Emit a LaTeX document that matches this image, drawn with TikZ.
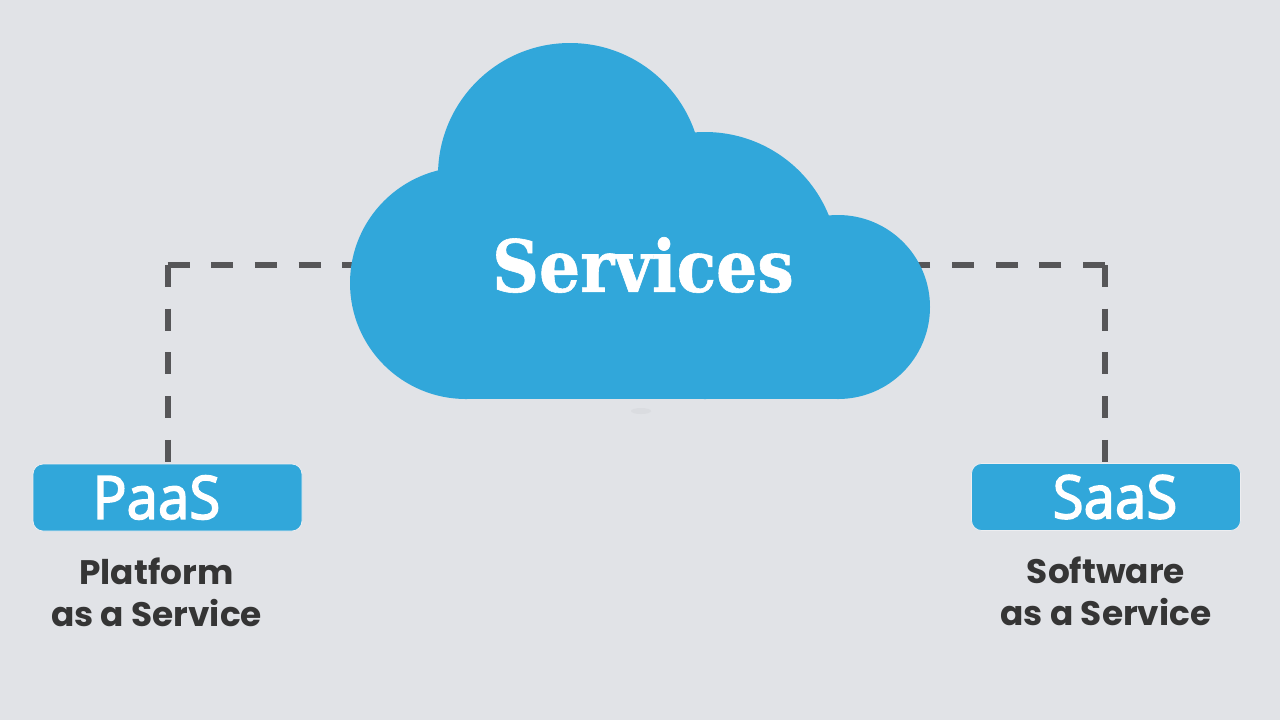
\documentclass[tikz,border=0pt]{standalone}
\usepackage{fontspec}
\usetikzlibrary{positioning, backgrounds}
\newfontfamily\slabfont[FakeStretch=0.9, FakeBold=0.8]{DejaVu Serif}
\newfontfamily\tagfont[FakeStretch=0.94, FakeBold=2.6]{Open Sans}
\newfontfamily\capfont[FakeStretch=1.01]{Poppins}
\definecolor{skyblue}{HTML}{31A7DA}
\definecolor{paper}{HTML}{E1E3E7}
\definecolor{dashgrey}{HTML}{565658}
\definecolor{inkgrey}{HTML}{353535}

\begin{document}
\begin{tikzpicture}[x=.5pt, y=-.5pt, node distance=5pt]
        \tikzstyle{tagbox}=[fill=skyblue, draw=white!40!paper, line width=.4pt, rounded corners=5pt, minimum width=134.5pt, minimum height=33.5pt, inner sep=0pt];
        \tikzstyle{tagname}=[text=white, font=\tagfont\fontsize{30}{30}\selectfont, inner sep=0pt];
        \tikzstyle{capt}=[text=inkgrey, align=center, font=\capfont\bfseries\fontsize{17}{21}\selectfont, inner sep=0pt];
        \tikzstyle{link}=[draw=dashgrey, line width=3pt, dash pattern=on 11pt off 10.85pt];
        \useasboundingbox (0,0) rectangle (1280,720);

        % cloud from four circles and a base
        \fill[skyblue] (570,175) circle (132);
        \fill[skyblue] (705,265.5) circle (133.5);
        \fill[skyblue] (838,307) circle (92);
        \fill[skyblue] (466,283) circle (116);
        \fill[skyblue] (466,283) rectangle (838,399);

        \node[text=white, inner sep=0pt, font=\slabfont\bfseries\fontsize{36}{36}\selectfont] (services) at (643,265) {Services};
        \node[tagbox] (paas) at (167.5,497.5) {};
        \node[tagbox] (saas) at (1106,497) {};
        \node[tagname, xshift=-5.5pt] (paasname) at (paas) {PaaS};
        \node[tagname, xshift=4.5pt] (saasname) at (saas) {SaaS};
        \node[capt, below=13pt of paas, xshift=-5.5pt] (paascap) {Platform\\as a Service};
        \node[capt, below=13pt of saas] (saascap) {Software\\as a Service};

        \coordinate (paasturn) at (paas.north |- services);
        \coordinate (saasturn) at ([xshift=-.5pt]saas.north |- services);

        \begin{scope}[on background layer]
        \fill[paper] (0,0) rectangle (1280,720);
        \fill[paper!97!black] (641,411) ellipse (10 and 3);
        \path[link]
        (paasturn) edge (services)
        (paasturn) edge (paas.north)
        (saasturn) edge (services)
        (saasturn) edge (saasturn |- saas.north);
        \end{scope}
      \end{tikzpicture}
\end{document}
